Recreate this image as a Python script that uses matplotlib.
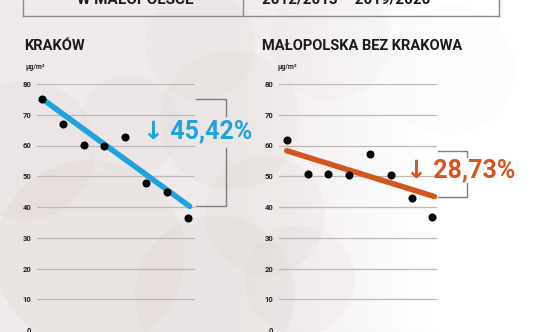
import numpy as np
import matplotlib.pyplot as plt
from matplotlib.patches import Circle

plt.rcParams['font.family'] = ['Roboto', 'DejaVu Sans']

# annual mean values, 2012/2013 .. 2019/2020
krakow = [75.0, 67.0, 60.2, 60.0, 62.9, 47.9, 44.8, 36.3]
malopolska = [61.8, 50.6, 50.7, 50.4, 57.2, 50.4, 42.8, 36.6]
# trend line start / end values
krakow_trend = [75.2, 40.2]
malopolska_trend = [58.3, 43.4]
krakow_drop = 45.42
malopolska_drop = 28.73
yticks = [0, 10, 20, 30, 40, 50, 60, 70, 80]

BLUE = '#1ea3dd'
ORANGE = '#d4561f'
GRID = '#bdb8b7'

W, H = 536, 332
fig = plt.figure(figsize=(W / 100, H / 100), dpi=100)
fig.patch.set_facecolor('white')

# soft background: warm grey on the left fading to white, plus faint circles
bg = fig.add_axes([0, 0, 1, 1])
bg.set_xlim(0, W)
bg.set_ylim(H, 0)
bg.axis('off')
grad = np.clip((np.linspace(0, 1, 200) - 0.45) / 0.35, 0, 1)
base = np.array([0.94, 0.925, 0.92])
img = base[None, :] + (1 - base[None, :]) * grad[:, None]
bg.imshow(img[None, :, :], extent=(0, W, H, 0), aspect='auto', zorder=0)
for cx, cy, r, a in [(90, 255, 95, 0.10), (215, 295, 80, 0.09), (230, 120, 70, 0.07),
                     (25, 150, 70, 0.08), (200, 45, 55, 0.06), (330, 40, 60, 0.05),
                     (450, 70, 65, 0.03), (265, 215, 60, 0.08), (130, 125, 50, 0.05),
                     (300, 280, 55, 0.07)]:
    bg.add_patch(Circle((cx, cy), r, color='#bfb0ae', alpha=a, lw=0, zorder=1))

# header box
for x in (23, 243, 499):
    bg.plot([x, x], [0, 16], color='#8a8a8a', lw=1)
bg.plot([23, 499], [16, 16], color='#8a8a8a', lw=1)
bg.text(135, 7, 'W MAŁOPOLSCE', ha='center', va='bottom', fontsize=11,
        fontweight='bold', color='#1a1a1a')
bg.text(346, 7, '2012/2013 – 2019/2020', ha='center', va='bottom', fontsize=11,
        fontweight='bold', color='#1a1a1a')

bg.text(24, 50, 'KRAKÓW', ha='left', va='baseline', fontsize=10.5,
        fontweight='bold', color='#1a1a1a')
bg.text(262, 50, 'MAŁOPOLSKA BEZ KRAKOWA', ha='left', va='baseline', fontsize=10.5,
        fontweight='bold', color='#1a1a1a')


def panel(x0, x1, first_x, values, trend, drop, color, br_x0, br_x1, gap,
          label_x, unit_x):
    step = 20.8
    ax = fig.add_axes([x0 / W, (H - 330) / H, (x1 - x0) / W, (330 - 84) / H])
    ax.set_xlim(-(first_x - x0) / step, (x1 - first_x) / step)
    ax.set_ylim(0, 80)
    ax.patch.set_visible(False)
    for s in ax.spines.values():
        s.set_visible(False)
    ax.set_xticks([])
    ax.set_yticks(yticks)
    ax.set_yticklabels([str(t) for t in yticks], fontsize=5.5, fontweight='bold',
                       color='#222222')
    ax.tick_params(axis='y', length=0, pad=4)
    for t in yticks:
        ax.axhline(t, color=GRID, lw=0.9, zorder=1)

    xs = np.arange(len(values))
    end_x = (len(values) - 1) + 0.1
    ax.plot([0, end_x], trend, color=color, lw=4, solid_capstyle='round', zorder=2)
    ax.plot(xs, values, 'o', color='black', ms=4.8, zorder=3)

    # bracket spanning the trend
    bx0 = (br_x0 - first_x) / step
    bx1 = (br_x1 - first_x) / step
    top, bottom = trend
    kw = dict(color='#7d7d7d', lw=1, clip_on=False)
    ax.plot([bx0, bx1, bx1], [top, top, gap[0]], **kw)
    ax.plot([bx1, bx1, bx0], [gap[1], bottom, bottom], **kw)
    ax.text((label_x - first_x) / step, (gap[0] + gap[1]) / 2,
            '↓ ' + f'{drop:.2f}'.replace('.', ',') + '%',
            ha='center', va='center', fontsize=18, fontweight='bold', color=color,
            clip_on=False)

    fig.text(unit_x / W, 1 - 67 / H, 'µg/m³', fontsize=5, fontweight='bold',
             color='#222222', ha='left', va='center')
    return ax


panel(37, 195, 42, krakow, krakow_trend, krakow_drop, BLUE, 196, 226,
      (69.7, 59.3), 198, 25)
panel(279, 437, 286.7, malopolska, malopolska_trend, malopolska_drop, ORANGE, 438, 467,
      (56.3, 47.8), 461, 277)

fig.savefig('out.png', dpi=100, facecolor=fig.get_facecolor())
